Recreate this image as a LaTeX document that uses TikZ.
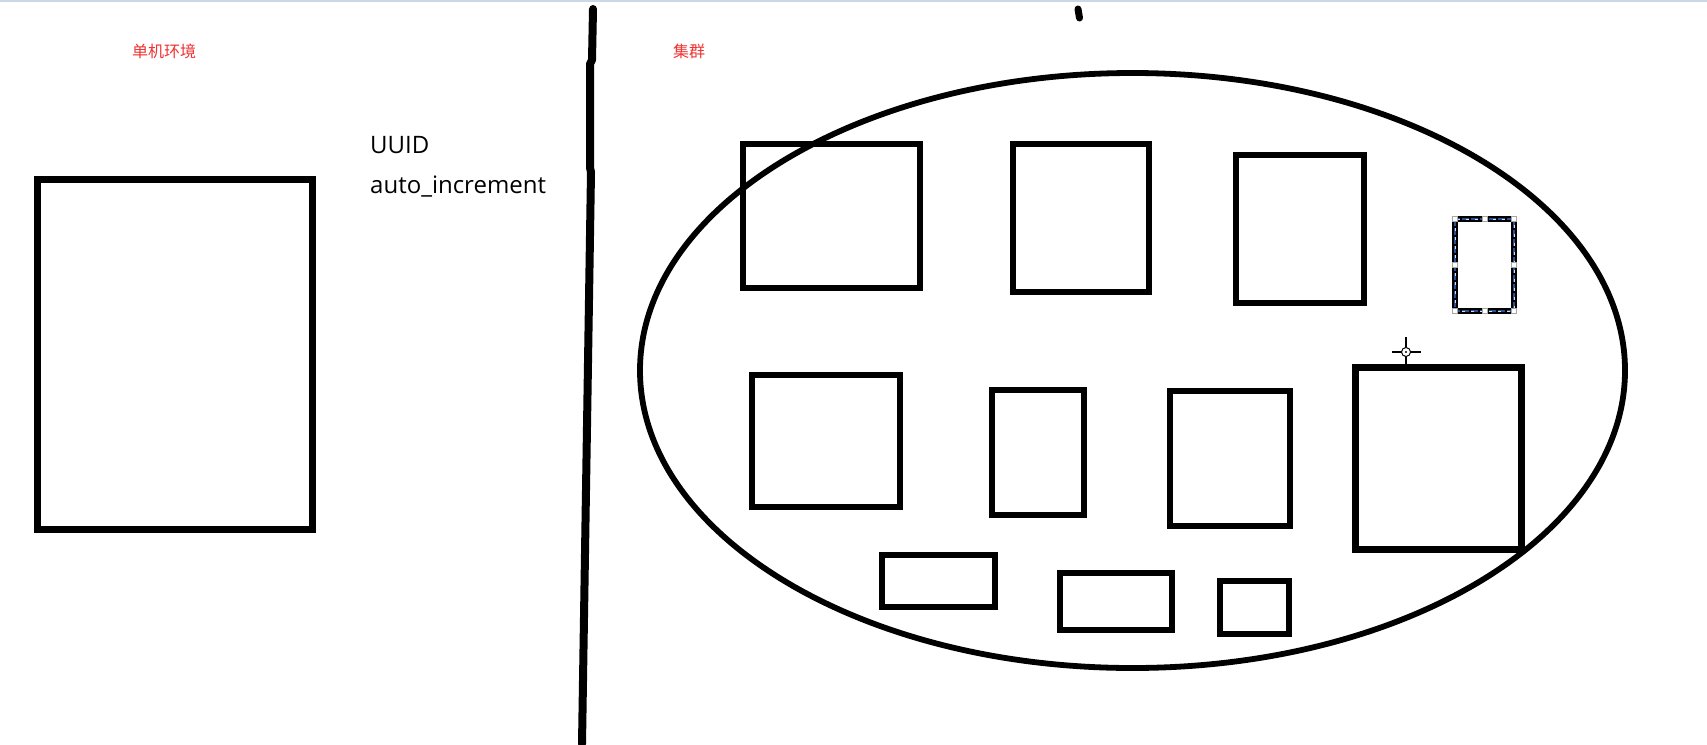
\documentclass[tikz,border=0pt]{standalone}
\usepackage{fontspec}
\newfontfamily\cjk{Noto Sans CJK SC}
\newfontfamily\lat{Open Sans}
\definecolor{redlabel}{RGB}{240,50,50}
\definecolor{topline}{RGB}{205,214,228}
\definecolor{selblue}{RGB}{40,80,150}
\begin{document}
\begin{tikzpicture}[x=1pt,y=-1pt,
  box/.style={draw=black,line width=6.5pt},
  redtxt/.style={text=redlabel,font=\cjk\fontsize{16}{16}\selectfont,inner sep=0pt},
  lattxt/.style={text=black,font=\lat\fontsize{24}{24}\selectfont,inner sep=0pt,anchor=base west},
  handle/.style={draw=gray!70,fill=white,line width=0.6pt}]
\useasboundingbox (0,0) rectangle (1707,744);
\fill[white] (0,0) rectangle (1707,744);
\fill[topline] (0,0) rectangle (1707,2);
% labels
\node[redtxt] (single) at (164,51) {单机环境};
\node[redtxt] (cluster) at (689,51) {集群};
\node[lattxt] (uuid) at (370,153) {UUID};
\node[lattxt] (autoinc) at (370,193) {auto\_increment};
% left box
\draw[box] (37.5,179.5) rectangle (312.5,529.5);
% divider
\draw[line width=8pt,line cap=round,line join=round] (593,9) -- (592,60) -- (590,64) -- (590,168) -- (591,172) -- (582,744);
% top mark
\draw[line width=7pt,line cap=round] (1078,9) -- (1079.5,18);
% ellipse
\draw[line width=5.8pt] (1132.5,370.5) ellipse [x radius=492.5pt, y radius=297.5pt];
% boxes
\draw[box] (743,144) rectangle (920,288);
\draw[box] (1013,144) rectangle (1149,292);
\draw[box] (1236,155) rectangle (1364,303);
\draw[box] (752,375) rectangle (900,507);
\draw[box] (992,390) rectangle (1084,515);
\draw[box] (1170,391) rectangle (1290,526);
\draw[box] (1355.5,367.5) rectangle (1521.5,549.5);
\draw[box] (882,555) rectangle (995,607);
\draw[box] (1060,573) rectangle (1172,630);
\draw[box] (1220,581) rectangle (1289,634);
% selected box
\draw[box,line width=6pt] (1455,219) rectangle (1514,311);
\draw[selblue,line width=1.6pt,dash pattern=on 7pt off 2pt] (1455,219) rectangle (1514,311);
\draw[white!75!gray,line width=0.8pt,dash pattern=on 3pt off 6pt] (1455,219) rectangle (1514,311);
\foreach \px/\py in {1455/219,1484.5/219,1514/219,1455/265,1514/265,1455/311,1484.5/311,1514/311}
  \draw[handle] (\px-2.5,\py-2.5) rectangle (\px+2.5,\py+2.5);
% crosshair
\draw[line width=1.3pt] (1392,352) -- (1421,352);
\draw[line width=1.3pt] (1406,337) -- (1406,365);
\draw[line width=1pt,fill=white] (1406,352) circle[radius=4.5pt];
\fill (1406,352) circle[radius=1.2pt];
\end{tikzpicture}
\end{document}
